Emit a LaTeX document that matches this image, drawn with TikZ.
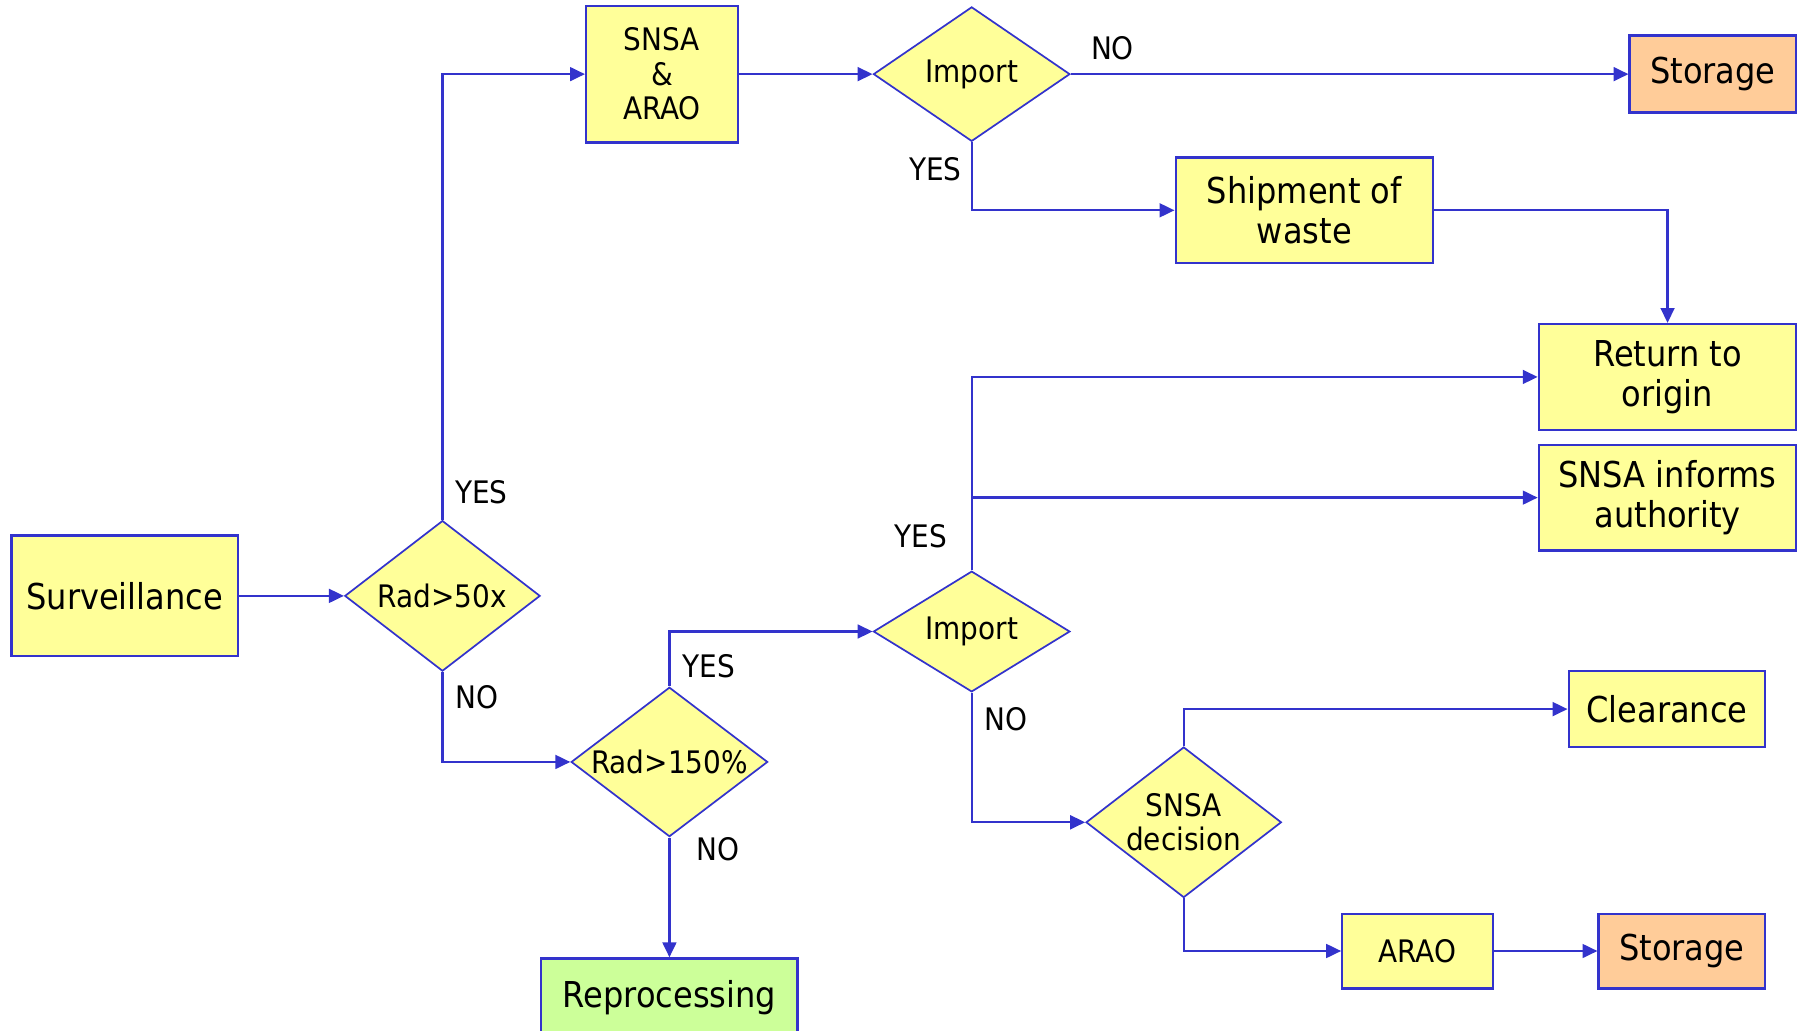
\documentclass[tikz,border=0pt]{standalone}
\usepackage{fontspec}
\setmainfont{DejaVu Sans Condensed}
\usetikzlibrary{shapes.geometric,arrows.meta}
\definecolor{ln}{RGB}{51,51,204}
\definecolor{yel}{RGB}{255,255,153}
\definecolor{org}{RGB}{255,204,153}
\definecolor{grn}{RGB}{204,255,153}
\begin{document}
\begin{tikzpicture}[x=1pt,y=-1pt,
  box/.style={draw=ln, line width=2pt, fill=yel, inner sep=0pt, align=center},
  dia/.style={diamond, draw=ln, line width=1.5pt, fill=yel, inner sep=0pt},
  big/.style={font=\fontsize{31}{35}\selectfont},
  med/.style={font=\fontsize{27}{30}\selectfont},
  lab/.style={font=\fontsize{27}{30}\selectfont, inner sep=0pt},
  arr/.style={draw=ln, line width=2pt, -{Triangle[length=13pt,width=12pt]}}]
\useasboundingbox (0,0) rectangle (1568,897);
\node[box,big,minimum width=197pt,minimum height=105pt] (surv) at (108.5,518.5) {Surveillance};
\node[dia,minimum width=170pt,minimum height=131pt,label={[med]center:Rad>50x}] (r50) at (385,518.5) {};
\node[box,med,minimum width=132pt,minimum height=119pt] (snsa) at (576,64.5) {SNSA\\\&\\ARAO};
\node[dia,minimum width=171pt,minimum height=117pt,label={[med]center:Import}] (imp1) at (845.5,64.5) {};
\node[box,big,fill=org,minimum width=145pt,minimum height=67pt] (sto1) at (1490.5,64.5) {Storage};
\node[box,big,minimum width=224pt,minimum height=92pt] (ship) at (1135,183) {Shipment of\\waste};
\node[box,big,minimum width=224pt,minimum height=92pt] (ret) at (1451,328) {Return to\\origin};
\node[box,big,minimum width=224pt,minimum height=92pt] (inf) at (1451,433) {SNSA informs\\authority};
\node[dia,minimum width=171pt,minimum height=105pt,label={[med]center:Import}] (imp2) at (845.5,549.5) {};
\node[dia,minimum width=171pt,minimum height=130pt,label={[med]center:Rad>150\%}] (r150) at (582.5,663) {};
\node[box,big,fill=grn,minimum width=223pt,minimum height=68pt] (rep) at (582.5,868) {Reprocessing};
\node[box,big,minimum width=171pt,minimum height=66pt] (clr) at (1450.5,617) {Clearance};
\node[dia,minimum width=170pt,minimum height=131pt,label={[med,align=center]center:SNSA\\decision}] (dec) at (1030,715.5) {};
\node[box,med,minimum width=131pt,minimum height=65pt] (arao) at (1233.5,827.5) {ARAO};
\node[box,big,fill=org,minimum width=145pt,minimum height=65pt] (sto2) at (1463.5,827.5) {Storage};

\draw[arr] (surv.east) -- (r50.west);
\draw[arr] (r50.north) |- (snsa.west);
\draw[arr] (r50.south) |- (r150.west);
\draw[arr] (snsa.east) -- (imp1.west);
\draw[arr] (imp1.east) -- (sto1.west);
\draw[arr] (imp1.south) |- (ship.west);
\draw[arr] (ship.east) -| (ret.north);
\draw[arr] (r150.north) |- (imp2.west);
\draw[arr] (r150.south) -- (rep.north);
\draw[arr] (imp2.north) |- (ret.west);
\draw[arr] (imp2.north |- inf.west) -- (inf.west);
\draw[arr] (imp2.south) |- (dec.west);
\draw[arr] (dec.north) |- (clr.west);
\draw[arr] (dec.south) |- (arao.west);
\draw[arr] (arao.east) -- (sto2.west);

\node[lab] (l1) at (419,428) {YES};
\node[lab] (l2) at (415,607) {NO};
\node[lab] (l3) at (617,580) {YES};
\node[lab] (l4) at (625,739) {NO};
\node[lab] (l5) at (968,42) {NO};
\node[lab] (l6) at (814,147) {YES};
\node[lab] (l7) at (801,467) {YES};
\node[lab] (l8) at (875,626) {NO};
\end{tikzpicture}
\end{document}
